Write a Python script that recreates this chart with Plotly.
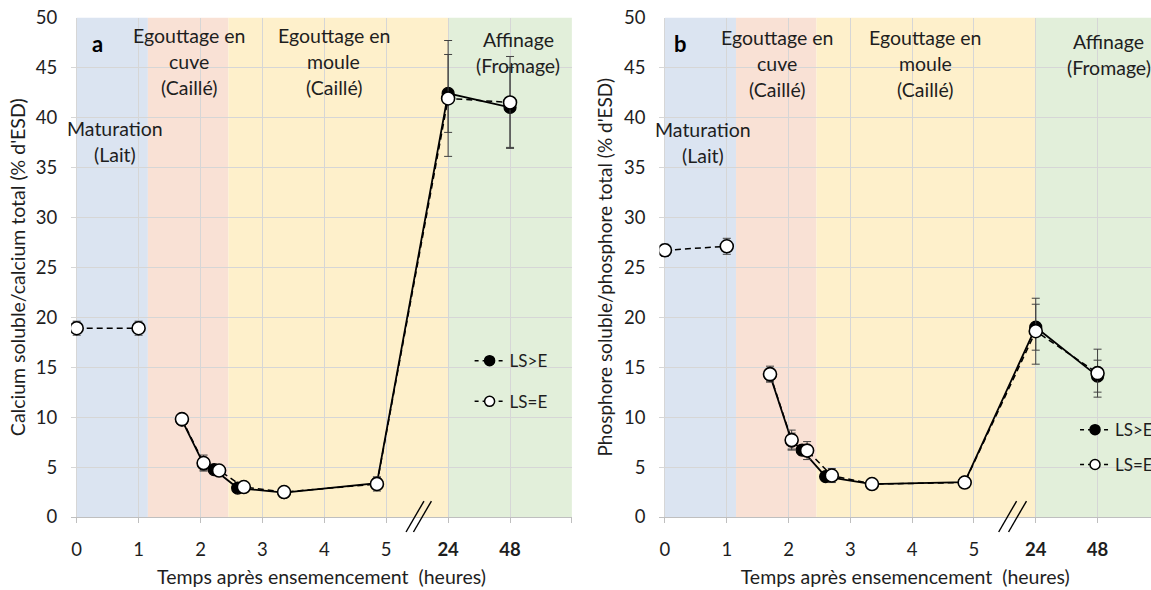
import plotly.graph_objects as go

# ---------------- data ----------------
# Time after inoculation (hours). Axis is broken after 5 h: 24 h and 48 h sit at slots 6 and 7.
break_slots = {24: 6, 48: 7}

# Panel a : soluble calcium / total calcium (% of ESD)
ca_gt_time = [1.7, 2.05, 2.22, 2.6, 3.35, 4.85, 24, 48]
ca_gt_val = [9.7, 5.3, 4.75, 2.9, 2.45, 3.4, 42.4, 41.0]
ca_gt_err = [0.3, 0.6, 0.3, 0.3, 0.2, 0.6, 3.9, 4.0]

ca_eq_time = [0, 1, None, 1.7, 2.05, 2.3, 2.7, 3.35, 4.85, 24, 48]
ca_eq_val = [18.9, 18.9, None, 9.8, 5.4, 4.65, 3.0, 2.5, 3.3, 41.9, 41.5]
ca_eq_err = [0.7, 0.7, None, 0.3, 0.8, 0.4, 0.3, 0.2, 0.7, 5.8, 4.6]

# Panel b : soluble phosphorus / total phosphorus (% of ESD)
p_gt_time = [1.7, 2.05, 2.22, 2.6, 3.35, 4.85, 24, 48]
p_gt_val = [14.2, 7.6, 6.7, 4.05, 3.3, 3.5, 19.0, 14.1]
p_gt_err = [0.6, 0.8, 0.5, 0.4, 0.2, 0.3, 2.3, 1.6]

p_eq_time = [0, 1, None, 1.7, 2.05, 2.3, 2.7, 3.35, 4.85, 24, 48]
p_eq_val = [26.7, 27.1, None, 14.3, 7.7, 6.65, 4.15, 3.3, 3.45, 18.6, 14.4]
p_eq_err = [0.6, 0.8, None, 0.8, 1.0, 0.9, 0.7, 0.2, 0.3, 3.3, 2.4]

# x axis ticks
tick_slots = [0, 1, 2, 3, 4, 5, 6, 7, 8]
tick_text = ["0", "1", "2", "3", "4", "5", "<b>24</b>", "<b>48</b>", ""]

# Process phases (edges in axis slots) and their labels
phase_edges = [0, 1.15, 2.45, 6.0, 8.0]
phase_colors = ["#dbe4f1", "#f9e1d5", "#fef0cb", "#e2efda"]
phase_labels = [["Maturation", "(Lait)"],
                ["Egouttage en", "cuve", "(Caillé)"],
                ["Egouttage en", "moule", "(Caillé)"],
                ["Affinage", "(Fromage)"]]
phase_label_x_a = [0.62, 1.81, 4.15, 7.13]
phase_label_top_a = [38.9, 48.2, 48.2, 47.8]
phase_label_x_b = [0.61, 1.81, 4.21, 7.18]
phase_label_top_b = [38.8, 48.0, 48.0, 47.6]
line_step = 2.6

series_names = ["LS>E", "LS=E"]

FONT = "Lato"
TXT = "#1e1e1e"


def slot(t):
    if t is None:
        return None
    return t if t <= 5 else break_slots[t]


fig = go.Figure()


def add_series(xa, ya, t_gt, v_gt, e_gt, t_eq, v_eq, e_eq):
    fig.add_trace(go.Scatter(
        x=[slot(t) for t in t_gt], y=v_gt, xaxis=xa, yaxis=ya, mode="lines+markers",
        line=dict(color="black", width=1.8),
        marker=dict(symbol="circle", size=12, color="black", line=dict(color="black", width=1.2)),
        error_y=dict(type="data", array=e_gt, color="#404040", thickness=1, width=4),
        showlegend=False, name=series_names[0]))
    fig.add_trace(go.Scatter(
        x=[slot(t) for t in t_eq], y=v_eq, xaxis=xa, yaxis=ya, mode="lines+markers",
        line=dict(color="black", width=1.5, dash="6px,4px"),
        marker=dict(symbol="circle", size=13, color="white", line=dict(color="black", width=1.6)),
        error_y=dict(type="data", array=e_eq, color="#404040", thickness=1, width=4),
        showlegend=False, name=series_names[1], connectgaps=False))


add_series("x", "y", ca_gt_time, ca_gt_val, ca_gt_err, ca_eq_time, ca_eq_val, ca_eq_err)
add_series("x2", "y2", p_gt_time, p_gt_val, p_gt_err, p_eq_time, p_eq_val, p_eq_err)

# legend entries (one legend box per entry so the spacing matches the figure)
legend_pos = {"legend": (0.408, 0.388), "legend2": (0.408, 0.319),
              "legend3": (0.934, 0.271), "legend4": (0.934, 0.212)}
for lg, name, fill, xa, ya in [("legend", series_names[0], "black", "x", "y"),
                               ("legend2", series_names[1], "white", "x", "y"),
                               ("legend3", series_names[0], "black", "x2", "y2"),
                               ("legend4", series_names[1], "white", "x2", "y2")]:
    fig.add_trace(go.Scatter(
        x=[None], y=[None], xaxis=xa, yaxis=ya, mode="lines+markers", name=name, legend=lg,
        line=dict(color="black", width=1.5, dash="4px,4px"),
        marker=dict(symbol="circle", size=10, color=fill, line=dict(color="black", width=1.5))))

legends = {}
for lg, (lx, ly) in legend_pos.items():
    legends[lg] = dict(x=lx, y=ly, xanchor="left", yanchor="middle", bgcolor="rgba(0,0,0,0)",
                       borderwidth=0, font=dict(family=FONT, size=17, color=TXT))

# background phase bands
for xa, ya in [("x", "y"), ("x2", "y2")]:
    for i, col in enumerate(phase_colors):
        fig.add_shape(type="rect", xref=xa, yref=ya, x0=phase_edges[i], x1=phase_edges[i + 1],
                      y0=0, y1=50, fillcolor=col, line=dict(width=0), layer="below")

# axis-break marks "//"
for xa, ya, starts in [("x", "y domain", [5.32, 5.44]), ("x2", "y2 domain", [5.40, 5.56])]:
    for s in starts:
        fig.add_shape(type="line", xref=xa, yref=ya, x0=s, x1=s + 0.29, y0=-0.03, y1=0.032,
                      line=dict(color="black", width=1.4))

# phase labels
for xa, ya, xs, tops in [("x", "y", phase_label_x_a, phase_label_top_a),
                         ("x2", "y2", phase_label_x_b, phase_label_top_b)]:
    for lines, px, top in zip(phase_labels, xs, tops):
        for k, line in enumerate(lines):
            fig.add_annotation(x=px, y=top - k * line_step, xref=xa, yref=ya, text=line,
                               showarrow=False, xanchor="center", yanchor="middle",
                               font=dict(family=FONT, size=19.5, color=TXT))

# panel letters
fig.add_annotation(x=0.33, y=47.4, xref="x", yref="y", text="<b>a</b>", showarrow=False,
                   font=dict(family=FONT, size=22, color="black"))
fig.add_annotation(x=0.25, y=47.4, xref="x2", yref="y2", text="<b>b</b>", showarrow=False,
                   font=dict(family=FONT, size=22, color="black"))

xcommon = dict(tickmode="array", tickvals=tick_slots, ticktext=tick_text, showgrid=True,
               gridcolor="#d6d6d6", gridwidth=1, showline=True, linecolor="#bfbfbf", linewidth=1,
               ticks="outside", ticklen=5, tickcolor="#bfbfbf", zeroline=False,
               ticklabelstandoff=11, automargin=False,
               tickfont=dict(family=FONT, size=18.5, color=TXT),
               title=dict(text="Temps après ensemencement  (heures)", standoff=11,
                          font=dict(family=FONT, size=19.5, color=TXT)))
ycommon = dict(range=[0, 50], dtick=5, tick0=0, showgrid=True, gridcolor="#d6d6d6", gridwidth=1,
               showline=False, zeroline=False, ticks="", ticklabelstandoff=13, automargin=False,
               tickfont=dict(family=FONT, size=18.5, color=TXT))

fig.update_layout(
    width=1151, height=590, autosize=False, template="none",
    margin=dict(l=0, r=0, t=0, b=0, autoexpand=False),
    paper_bgcolor="white", plot_bgcolor="white",
    showlegend=True,
    xaxis=dict(xcommon, domain=[0.0618, 0.4969], range=[-0.09, 8.0], anchor="y"),
    yaxis=dict(ycommon, domain=[0.1237, 0.9703], anchor="x",
               title=dict(text="Calcium soluble/calcium total (% d'ESD)", standoff=4,
                          font=dict(family=FONT, size=19.5, color=TXT))),
    xaxis2=dict(xcommon, domain=[0.5729, 1.0], range=[-0.09, 7.865], anchor="y2"),
    yaxis2=dict(ycommon, domain=[0.1237, 0.9703], anchor="x2",
                title=dict(text="Phosphore soluble/phosphore total (% d'ESD)", standoff=6,
                           font=dict(family=FONT, size=19, color=TXT))),
    **legends,
)

fig.write_html(
    "out.html",
    config={"displayModeBar": False, "responsive": False},
    post_script=("document.documentElement.style.overflow='hidden';"
                 "document.body.style.overflow='hidden';"
                 "document.body.style.margin='0';document.body.style.padding='0';"),
)
